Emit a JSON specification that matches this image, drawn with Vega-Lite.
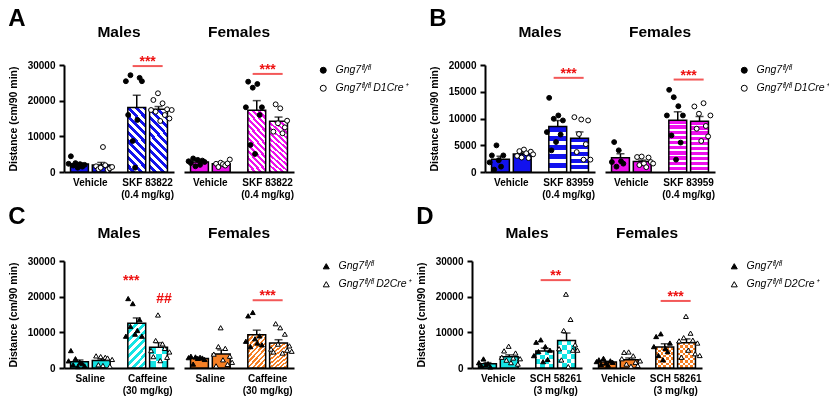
{
"$schema":"https://vega.github.io/schema/vega-lite/v6.json",
"padding":{"left":8,"top":6,"right":0,"bottom":0},
"background":"white",
"config":{
 "font":"Liberation Sans",
 "view":{"stroke":null},
 "title":{"fontSize":24,"fontWeight":"bold","color":"black","anchor":"start","offset":0},
 "header":{"labelFontSize":15.5,"labelFontWeight":"bold","labelColor":"black","labelPadding":25},
 "axisX":{"ticks":false,"labelAngle":0,"domainWidth":2,"domainColor":"black","labelFontWeight":"bold","labelFontSize":10,"labelColor":"black","labelPadding":5,"labelLineHeight":12.5},
 "axisY":{"grid":false,"domainWidth":2,"domainColor":"black","tickColor":"black","tickWidth":2,"tickSize":5,"labelOverlap":false,"labelFontWeight":"bold","labelFontSize":10,"labelColor":"black","labelPadding":4,"titleFontWeight":"bold","titleFontSize":10.5,"titleColor":"black","titlePadding":9},
 "numberFormat":"d",
 "bar":{"stroke":"black","strokeWidth":1.5},
 "point":{"filled":true,"stroke":"black","strokeWidth":1,"size":24,"opacity":1},
 "text":{"color":"#ee1111","fontSize":14,"fontWeight":"bold","baseline":"alphabetic"},
 "tick":{"color":"#ee1111","thickness":2},
 "legend":{"orient":"right","offset":24,"padding":0,"rowPadding":7,"labelFontSize":10.5,"labelFontStyle":"italic","labelColor":"black","symbolSize":36,"labelOffset":7}
},
"datasets":{
 "A":[
  {"s":"M","c":"Vehicle","g":"fl","k":"fl2","v":2300},{"s":"M","c":"Vehicle","g":"fl","k":"fl3","v":4400},{"s":"M","c":"Vehicle","g":"fl","k":"fl4","v":1800},{"s":"M","c":"Vehicle","g":"fl","k":"fl5","v":2500},{"s":"M","c":"Vehicle","g":"fl","k":"fl6","v":1200},{"s":"M","c":"Vehicle","g":"fl","k":"fl7","v":2200},{"s":"M","c":"Vehicle","g":"fl","k":"fl8","v":1500},{"s":"M","c":"Vehicle","g":"fl","k":"fl9","v":2000},
  {"s":"M","c":"Vehicle","g":"cre","k":"cre2","v":1600},{"s":"M","c":"Vehicle","g":"cre","k":"cre3","v":800},{"s":"M","c":"Vehicle","g":"cre","k":"cre4","v":1200},{"s":"M","c":"Vehicle","g":"cre","k":"cre5","v":7000},{"s":"M","c":"Vehicle","g":"cre","k":"cre6","v":1900},{"s":"M","c":"Vehicle","g":"cre","k":"cre7","v":600},{"s":"M","c":"Vehicle","g":"cre","k":"cre8","v":1000},{"s":"M","c":"Vehicle","g":"cre","k":"cre9","v":1400},
  {"s":"M","c":"SKF","g":"fl","k":"fl2","v":25450},{"s":"M","c":"SKF","g":"fl","k":"fl3","v":16000},{"s":"M","c":"SKF","g":"fl","k":"fl4","v":27140},{"s":"M","c":"SKF","g":"fl","k":"fl5","v":8690},{"s":"M","c":"SKF","g":"fl","k":"fl6","v":1210},{"s":"M","c":"SKF","g":"fl","k":"fl7","v":14580},{"s":"M","c":"SKF","g":"fl","k":"fl8","v":26400},{"s":"M","c":"SKF","g":"fl","k":"fl9","v":25450},
  {"s":"M","c":"SKF","g":"cre","k":"cre1","v":17380},{"s":"M","c":"SKF","g":"cre","k":"cre2","v":20190},{"s":"M","c":"SKF","g":"cre","k":"cre3","v":16910},{"s":"M","c":"SKF","g":"cre","k":"cre4","v":22070},{"s":"M","c":"SKF","g":"cre","k":"cre5","v":14300},{"s":"M","c":"SKF","g":"cre","k":"cre6","v":19260},{"s":"M","c":"SKF","g":"cre","k":"cre7","v":15980},{"s":"M","c":"SKF","g":"cre","k":"cre8","v":17580},{"s":"M","c":"SKF","g":"cre","k":"cre9","v":15000},{"s":"M","c":"SKF","g":"cre","k":"cre10","v":17380},
  {"s":"F","c":"Vehicle","g":"fl","k":"fl2","v":3000},{"s":"F","c":"Vehicle","g":"fl","k":"fl3","v":2500},{"s":"F","c":"Vehicle","g":"fl","k":"fl4","v":3800},{"s":"F","c":"Vehicle","g":"fl","k":"fl5","v":1600},{"s":"F","c":"Vehicle","g":"fl","k":"fl6","v":3400},{"s":"F","c":"Vehicle","g":"fl","k":"fl7","v":2000},{"s":"F","c":"Vehicle","g":"fl","k":"fl8","v":3200},{"s":"F","c":"Vehicle","g":"fl","k":"fl9","v":2800},
  {"s":"F","c":"Vehicle","g":"cre","k":"cre2","v":2300},{"s":"F","c":"Vehicle","g":"cre","k":"cre3","v":1400},{"s":"F","c":"Vehicle","g":"cre","k":"cre4","v":2600},{"s":"F","c":"Vehicle","g":"cre","k":"cre5","v":2200},{"s":"F","c":"Vehicle","g":"cre","k":"cre6","v":1800},{"s":"F","c":"Vehicle","g":"cre","k":"cre7","v":2400},{"s":"F","c":"Vehicle","g":"cre","k":"cre8","v":3500},
  {"s":"F","c":"SKF","g":"fl","k":"fl2","v":18140},{"s":"F","c":"SKF","g":"fl","k":"fl3","v":25320},{"s":"F","c":"SKF","g":"fl","k":"fl4","v":7570},{"s":"F","c":"SKF","g":"fl","k":"fl5","v":23640},{"s":"F","c":"SKF","g":"fl","k":"fl6","v":5050},{"s":"F","c":"SKF","g":"fl","k":"fl7","v":24670},{"s":"F","c":"SKF","g":"fl","k":"fl8","v":15980},{"s":"F","c":"SKF","g":"fl","k":"fl9","v":18140},
  {"s":"F","c":"SKF","g":"cre","k":"cre2","v":11310},{"s":"F","c":"SKF","g":"cre","k":"cre3","v":18970},{"s":"F","c":"SKF","g":"cre","k":"cre4","v":13660},{"s":"F","c":"SKF","g":"cre","k":"cre5","v":17850},{"s":"F","c":"SKF","g":"cre","k":"cre6","v":10850},{"s":"F","c":"SKF","g":"cre","k":"cre7","v":12500},{"s":"F","c":"SKF","g":"cre","k":"cre8","v":14380},
  {"s":"M","c":"SKF","ann":"rule","y":29700,"t":"***"},{"s":"F","c":"SKF","ann":"rule","y":27500,"t":"***"}
 ],
 "B":[
  {"s":"M","c":"Vehicle","g":"fl","k":"fl2","v":1800},{"s":"M","c":"Vehicle","g":"fl","k":"fl3","v":3100},{"s":"M","c":"Vehicle","g":"fl","k":"fl4","v":450},{"s":"M","c":"Vehicle","g":"fl","k":"fl5","v":4980},{"s":"M","c":"Vehicle","g":"fl","k":"fl6","v":2200},{"s":"M","c":"Vehicle","g":"fl","k":"fl7","v":1000},{"s":"M","c":"Vehicle","g":"fl","k":"fl8","v":3100},
  {"s":"M","c":"Vehicle","g":"cre","k":"cre2","v":3000},{"s":"M","c":"Vehicle","g":"cre","k":"cre3","v":3900},{"s":"M","c":"Vehicle","g":"cre","k":"cre4","v":2700},{"s":"M","c":"Vehicle","g":"cre","k":"cre5","v":4200},{"s":"M","c":"Vehicle","g":"cre","k":"cre6","v":3500},{"s":"M","c":"Vehicle","g":"cre","k":"cre7","v":2600},{"s":"M","c":"Vehicle","g":"cre","k":"cre8","v":3800},{"s":"M","c":"Vehicle","g":"cre","k":"cre9","v":3300},
  {"s":"M","c":"SKF","g":"fl","k":"fl2","v":7460},{"s":"M","c":"SKF","g":"fl","k":"fl3","v":13860},{"s":"M","c":"SKF","g":"fl","k":"fl4","v":4050},{"s":"M","c":"SKF","g":"fl","k":"fl5","v":9950},{"s":"M","c":"SKF","g":"fl","k":"fl6","v":5600},{"s":"M","c":"SKF","g":"fl","k":"fl7","v":10570},{"s":"M","c":"SKF","g":"fl","k":"fl8","v":7000},{"s":"M","c":"SKF","g":"fl","k":"fl9","v":9640},
  {"s":"M","c":"SKF","g":"cre","k":"cre2","v":10250},{"s":"M","c":"SKF","g":"cre","k":"cre3","v":3730},{"s":"M","c":"SKF","g":"cre","k":"cre4","v":7100},{"s":"M","c":"SKF","g":"cre","k":"cre5","v":9820},{"s":"M","c":"SKF","g":"cre","k":"cre6","v":2310},{"s":"M","c":"SKF","g":"cre","k":"cre7","v":5200},{"s":"M","c":"SKF","g":"cre","k":"cre8","v":9640},{"s":"M","c":"SKF","g":"cre","k":"cre9","v":2310},
  {"s":"F","c":"Vehicle","g":"fl","k":"fl3","v":1860},{"s":"F","c":"Vehicle","g":"fl","k":"fl4","v":5590},{"s":"F","c":"Vehicle","g":"fl","k":"fl5","v":1000},{"s":"F","c":"Vehicle","g":"fl","k":"fl6","v":4050},{"s":"F","c":"Vehicle","g":"fl","k":"fl7","v":2000},{"s":"F","c":"Vehicle","g":"fl","k":"fl8","v":1560},
  {"s":"F","c":"Vehicle","g":"cre","k":"cre2","v":2800},{"s":"F","c":"Vehicle","g":"cre","k":"cre3","v":1300},{"s":"F","c":"Vehicle","g":"cre","k":"cre4","v":2890},{"s":"F","c":"Vehicle","g":"cre","k":"cre5","v":1580},{"s":"F","c":"Vehicle","g":"cre","k":"cre6","v":900},{"s":"F","c":"Vehicle","g":"cre","k":"cre7","v":2700},{"s":"F","c":"Vehicle","g":"cre","k":"cre8","v":1860},{"s":"F","c":"Vehicle","g":"cre","k":"cre9","v":1580},
  {"s":"F","c":"SKF","g":"fl","k":"fl2","v":10570},{"s":"F","c":"SKF","g":"fl","k":"fl3","v":15360},{"s":"F","c":"SKF","g":"fl","k":"fl4","v":6840},{"s":"F","c":"SKF","g":"fl","k":"fl5","v":13980},{"s":"F","c":"SKF","g":"fl","k":"fl6","v":2310},{"s":"F","c":"SKF","g":"fl","k":"fl7","v":12300},{"s":"F","c":"SKF","g":"fl","k":"fl8","v":5500},{"s":"F","c":"SKF","g":"fl","k":"fl9","v":10570},
  {"s":"F","c":"SKF","g":"cre","k":"cre2","v":12250},{"s":"F","c":"SKF","g":"cre","k":"cre3","v":8090},{"s":"F","c":"SKF","g":"cre","k":"cre4","v":10890},{"s":"F","c":"SKF","g":"cre","k":"cre5","v":5800},{"s":"F","c":"SKF","g":"cre","k":"cre6","v":12860},{"s":"F","c":"SKF","g":"cre","k":"cre7","v":8600},{"s":"F","c":"SKF","g":"cre","k":"cre8","v":6650},{"s":"F","c":"SKF","g":"cre","k":"cre9","v":10570},
  {"s":"M","c":"SKF","ann":"rule","y":17600,"t":"***"},{"s":"F","c":"SKF","ann":"rule","y":17280,"t":"***"}
 ],
 "C":[
  {"s":"M","c":"Saline","g":"fl","k":"fl2","v":2000},{"s":"M","c":"Saline","g":"fl","k":"fl3","v":4880},{"s":"M","c":"Saline","g":"fl","k":"fl4","v":900},{"s":"M","c":"Saline","g":"fl","k":"fl5","v":2600},{"s":"M","c":"Saline","g":"fl","k":"fl6","v":400},{"s":"M","c":"Saline","g":"fl","k":"fl7","v":1500},{"s":"M","c":"Saline","g":"fl","k":"fl8","v":1200},{"s":"M","c":"Saline","g":"fl","k":"fl9","v":600},
  {"s":"M","c":"Saline","g":"cre","k":"cre2","v":3400},{"s":"M","c":"Saline","g":"cre","k":"cre3","v":900},{"s":"M","c":"Saline","g":"cre","k":"cre4","v":3200},{"s":"M","c":"Saline","g":"cre","k":"cre5","v":700},{"s":"M","c":"Saline","g":"cre","k":"cre6","v":3000},{"s":"M","c":"Saline","g":"cre","k":"cre7","v":2800},{"s":"M","c":"Saline","g":"cre","k":"cre8","v":500},{"s":"M","c":"Saline","g":"cre","k":"cre9","v":2400},
  {"s":"M","c":"Caffeine","g":"fl","k":"fl2","v":8920},{"s":"M","c":"Caffeine","g":"fl","k":"fl3","v":19470},{"s":"M","c":"Caffeine","g":"fl","k":"fl4","v":11650},{"s":"M","c":"Caffeine","g":"fl","k":"fl5","v":18060},{"s":"M","c":"Caffeine","g":"fl","k":"fl6","v":9500},{"s":"M","c":"Caffeine","g":"fl","k":"fl7","v":10520},{"s":"M","c":"Caffeine","g":"fl","k":"fl8","v":13540},{"s":"M","c":"Caffeine","g":"fl","k":"fl9","v":8920},
  {"s":"M","c":"Caffeine","g":"cre","k":"cre1","v":4880},{"s":"M","c":"Caffeine","g":"cre","k":"cre2","v":3190},{"s":"M","c":"Caffeine","g":"cre","k":"cre3","v":7700},{"s":"M","c":"Caffeine","g":"cre","k":"cre4","v":14870},{"s":"M","c":"Caffeine","g":"cre","k":"cre5","v":2070},{"s":"M","c":"Caffeine","g":"cre","k":"cre6","v":6760},{"s":"M","c":"Caffeine","g":"cre","k":"cre7","v":5500},{"s":"M","c":"Caffeine","g":"cre","k":"cre8","v":3000},{"s":"M","c":"Caffeine","g":"cre","k":"cre9","v":4500},
  {"s":"F","c":"Saline","g":"fl","k":"fl2","v":2900},{"s":"F","c":"Saline","g":"fl","k":"fl3","v":3300},{"s":"F","c":"Saline","g":"fl","k":"fl4","v":1100},{"s":"F","c":"Saline","g":"fl","k":"fl5","v":3100},{"s":"F","c":"Saline","g":"fl","k":"fl6","v":2700},{"s":"F","c":"Saline","g":"fl","k":"fl7","v":3000},{"s":"F","c":"Saline","g":"fl","k":"fl8","v":2800},{"s":"F","c":"Saline","g":"fl","k":"fl9","v":2400},
  {"s":"F","c":"Saline","g":"cre","k":"cre1","v":3900},{"s":"F","c":"Saline","g":"cre","k":"cre2","v":600},{"s":"F","c":"Saline","g":"cre","k":"cre3","v":6000},{"s":"F","c":"Saline","g":"cre","k":"cre4","v":11290},{"s":"F","c":"Saline","g":"cre","k":"cre5","v":2300},{"s":"F","c":"Saline","g":"cre","k":"cre6","v":5500},{"s":"F","c":"Saline","g":"cre","k":"cre7","v":1000},{"s":"F","c":"Saline","g":"cre","k":"cre8","v":3300},{"s":"F","c":"Saline","g":"cre","k":"cre9","v":1600},
  {"s":"F","c":"Caffeine","g":"fl","k":"fl2","v":7500},{"s":"F","c":"Caffeine","g":"fl","k":"fl3","v":14620},{"s":"F","c":"Caffeine","g":"fl","k":"fl4","v":6000},{"s":"F","c":"Caffeine","g":"fl","k":"fl5","v":15580},{"s":"F","c":"Caffeine","g":"fl","k":"fl6","v":8200},{"s":"F","c":"Caffeine","g":"fl","k":"fl7","v":7000},{"s":"F","c":"Caffeine","g":"fl","k":"fl8","v":9000},{"s":"F","c":"Caffeine","g":"fl","k":"fl9","v":6500},
  {"s":"F","c":"Caffeine","g":"cre","k":"cre1","v":5300},{"s":"F","c":"Caffeine","g":"cre","k":"cre2","v":4500},{"s":"F","c":"Caffeine","g":"cre","k":"cre3","v":12420},{"s":"F","c":"Caffeine","g":"cre","k":"cre4","v":6700},{"s":"F","c":"Caffeine","g":"cre","k":"cre5","v":11290},{"s":"F","c":"Caffeine","g":"cre","k":"cre6","v":4200},{"s":"F","c":"Caffeine","g":"cre","k":"cre7","v":9500},{"s":"F","c":"Caffeine","g":"cre","k":"cre8","v":5000},{"s":"F","c":"Caffeine","g":"cre","k":"cre9","v":6200},{"s":"F","c":"Caffeine","g":"cre","k":"cre10","v":4700},
  {"s":"M","c":"Caffeine","g":"fl","ann":"note","y":23300,"t":"***"},{"s":"M","c":"Caffeine","g":"cre","ann":"note","y":18170,"t":"##"},{"s":"F","c":"Caffeine","ann":"rule","y":19000,"t":"***"}
 ],
 "D":[
  {"s":"M","c":"Vehicle","g":"fl","k":"fl3","v":1500},{"s":"M","c":"Vehicle","g":"fl","k":"fl4","v":700},{"s":"M","c":"Vehicle","g":"fl","k":"fl5","v":2540},{"s":"M","c":"Vehicle","g":"fl","k":"fl6","v":900},{"s":"M","c":"Vehicle","g":"fl","k":"fl7","v":1200},{"s":"M","c":"Vehicle","g":"fl","k":"fl8","v":300},
  {"s":"M","c":"Vehicle","g":"cre","k":"cre1","v":3000},{"s":"M","c":"Vehicle","g":"cre","k":"cre2","v":4800},{"s":"M","c":"Vehicle","g":"cre","k":"cre3","v":2200},{"s":"M","c":"Vehicle","g":"cre","k":"cre4","v":6100},{"s":"M","c":"Vehicle","g":"cre","k":"cre5","v":1500},{"s":"M","c":"Vehicle","g":"cre","k":"cre6","v":2800},{"s":"M","c":"Vehicle","g":"cre","k":"cre7","v":4200},{"s":"M","c":"Vehicle","g":"cre","k":"cre8","v":1100},{"s":"M","c":"Vehicle","g":"cre","k":"cre9","v":2600},
  {"s":"M","c":"SCH","g":"fl","k":"fl2","v":3470},{"s":"M","c":"SCH","g":"fl","k":"fl3","v":7230},{"s":"M","c":"SCH","g":"fl","k":"fl4","v":4600},{"s":"M","c":"SCH","g":"fl","k":"fl5","v":7900},{"s":"M","c":"SCH","g":"fl","k":"fl6","v":1780},{"s":"M","c":"SCH","g":"fl","k":"fl7","v":6000},{"s":"M","c":"SCH","g":"fl","k":"fl8","v":2400},{"s":"M","c":"SCH","g":"fl","k":"fl9","v":5000},
  {"s":"M","c":"SCH","g":"cre","k":"cre1","v":5400},{"s":"M","c":"SCH","g":"cre","k":"cre2","v":2260},{"s":"M","c":"SCH","g":"cre","k":"cre3","v":10500},{"s":"M","c":"SCH","g":"cre","k":"cre4","v":20690},{"s":"M","c":"SCH","g":"cre","k":"cre5","v":400},{"s":"M","c":"SCH","g":"cre","k":"cre6","v":13630},{"s":"M","c":"SCH","g":"cre","k":"cre7","v":5000},{"s":"M","c":"SCH","g":"cre","k":"cre8","v":6500},{"s":"M","c":"SCH","g":"cre","k":"cre9","v":5000},
  {"s":"F","c":"Vehicle","g":"fl","k":"fl2","v":1800},{"s":"F","c":"Vehicle","g":"fl","k":"fl3","v":2300},{"s":"F","c":"Vehicle","g":"fl","k":"fl4","v":1000},{"s":"F","c":"Vehicle","g":"fl","k":"fl5","v":2700},{"s":"F","c":"Vehicle","g":"fl","k":"fl6","v":1400},{"s":"F","c":"Vehicle","g":"fl","k":"fl7","v":800},{"s":"F","c":"Vehicle","g":"fl","k":"fl8","v":2000},{"s":"F","c":"Vehicle","g":"fl","k":"fl9","v":1600},
  {"s":"F","c":"Vehicle","g":"cre","k":"cre1","v":2600},{"s":"F","c":"Vehicle","g":"cre","k":"cre2","v":4400},{"s":"F","c":"Vehicle","g":"cre","k":"cre3","v":1100},{"s":"F","c":"Vehicle","g":"cre","k":"cre4","v":4500},{"s":"F","c":"Vehicle","g":"cre","k":"cre5","v":500},{"s":"F","c":"Vehicle","g":"cre","k":"cre6","v":3400},{"s":"F","c":"Vehicle","g":"cre","k":"cre7","v":1600},{"s":"F","c":"Vehicle","g":"cre","k":"cre8","v":700},{"s":"F","c":"Vehicle","g":"cre","k":"cre9","v":2000},
  {"s":"F","c":"SCH","g":"fl","k":"fl2","v":6000},{"s":"F","c":"SCH","g":"fl","k":"fl3","v":8830},{"s":"F","c":"SCH","g":"fl","k":"fl4","v":3500},{"s":"F","c":"SCH","g":"fl","k":"fl5","v":9590},{"s":"F","c":"SCH","g":"fl","k":"fl6","v":2300},{"s":"F","c":"SCH","g":"fl","k":"fl7","v":5500},{"s":"F","c":"SCH","g":"fl","k":"fl8","v":4600},{"s":"F","c":"SCH","g":"fl","k":"fl9","v":7000},
  {"s":"F","c":"SCH","g":"cre","k":"cre1","v":7600},{"s":"F","c":"SCH","g":"cre","k":"cre2","v":3000},{"s":"F","c":"SCH","g":"cre","k":"cre3","v":8500},{"s":"F","c":"SCH","g":"cre","k":"cre4","v":14480},{"s":"F","c":"SCH","g":"cre","k":"cre5","v":5000},{"s":"F","c":"SCH","g":"cre","k":"cre6","v":9770},{"s":"F","c":"SCH","g":"cre","k":"cre7","v":7800},{"s":"F","c":"SCH","g":"cre","k":"cre8","v":4000},{"s":"F","c":"SCH","g":"cre","k":"cre9","v":7000},{"s":"F","c":"SCH","g":"cre","k":"cre10","v":3500},
  {"s":"M","c":"SCH","ann":"rule","y":24640,"t":"**"},{"s":"F","c":"SCH","ann":"rule","y":18800,"t":"***"}
 ]
},
"spacing":4,
"resolve":{"scale":{"shape":"independent","fill":"independent"}},
"vconcat":[
{"hconcat":[
 {"title":{"text":"A","offset":-6},"data":{"name":"A"},"bounds":"flush",
  "facet":{"column":{"field":"s","type":"nominal","sort":["M","F"],"header":{"title":null,"labelExpr":"datum.value=='M'?'Males      ':'   Females'"}}},
  "spacing":{"column":10},
  "spec":{"width":110,"height":107,
   "encoding":{"x":{"field":"c","type":"nominal","scale":{"domain":["Vehicle","SKF"],"paddingInner":0.08,"paddingOuter":0},"axis":{"title":null,"labelExpr":"datum.value=='SKF'?['SKF 83822','(0.4 mg/kg)']:datum.value"}}},
   "resolve":{"scale":{"xOffset":"independent"}},
   "layer":[
    {"transform":[{"filter":"!datum.ann"}],"mark":{"type":"errorbar","extent":"stderr","color":"black","thickness":1.5,"ticks":{"size":8,"thickness":1.5,"color":"black"}},
     "encoding":{"xOffset":{"field":"g","type":"nominal","scale":{"domain":["fl","cre"],"paddingInner":0.18,"paddingOuter":0.3}},"y":{"field":"v","type":"quantitative","title":"Distance (cm/90 min)","scale":{"domain":[0,30000],"nice":false}}}},
    {"transform":[{"filter":"!datum.ann&&datum.s=='M'&&datum.c=='Vehicle'"}],"mark":{"type":"bar","fill":"#1212ee"},
     "encoding":{"xOffset":{"field":"g","type":"nominal","scale":{"domain":["fl","cre"],"paddingInner":0.18,"paddingOuter":0.3}},"y":{"aggregate":"mean","field":"v","type":"quantitative","title":"Distance (cm/90 min)","axis":{"values":[0,10000,20000,30000],"labelOverlap":false,"tickCount":4}}}},
    {"transform":[{"filter":"!datum.ann&&datum.s=='F'&&datum.c=='Vehicle'"}],"mark":{"type":"bar","fill":"#ee10ee"},
     "encoding":{"xOffset":{"field":"g","type":"nominal","scale":{"domain":["fl","cre"],"paddingInner":0.18,"paddingOuter":0.3}},"y":{"aggregate":"mean","field":"v","type":"quantitative","title":"Distance (cm/90 min)"}}},
    {"transform":[{"filter":"!datum.ann&&datum.s=='M'&&datum.c=='SKF'"}],"mark":{"type":"bar","fill":{"gradient":"linear","x1":1,"y1":0,"x2":0.655,"y2":1.19,"stops":[{"offset":0,"color":"#1212ee"},{"offset":0.05,"color":"#1212ee"},{"offset":0.05,"color":"#ffffff"},{"offset":0.1,"color":"#ffffff"},{"offset":0.1,"color":"#1212ee"},{"offset":0.15,"color":"#1212ee"},{"offset":0.15,"color":"#ffffff"},{"offset":0.2,"color":"#ffffff"},{"offset":0.2,"color":"#1212ee"},{"offset":0.25,"color":"#1212ee"},{"offset":0.25,"color":"#ffffff"},{"offset":0.3,"color":"#ffffff"},{"offset":0.3,"color":"#1212ee"},{"offset":0.35,"color":"#1212ee"},{"offset":0.35,"color":"#ffffff"},{"offset":0.4,"color":"#ffffff"},{"offset":0.4,"color":"#1212ee"},{"offset":0.45,"color":"#1212ee"},{"offset":0.45,"color":"#ffffff"},{"offset":0.5,"color":"#ffffff"},{"offset":0.5,"color":"#1212ee"},{"offset":0.55,"color":"#1212ee"},{"offset":0.55,"color":"#ffffff"},{"offset":0.6,"color":"#ffffff"},{"offset":0.6,"color":"#1212ee"},{"offset":0.65,"color":"#1212ee"},{"offset":0.65,"color":"#ffffff"},{"offset":0.7,"color":"#ffffff"},{"offset":0.7,"color":"#1212ee"},{"offset":0.75,"color":"#1212ee"},{"offset":0.75,"color":"#ffffff"},{"offset":0.8,"color":"#ffffff"},{"offset":0.8,"color":"#1212ee"},{"offset":0.85,"color":"#1212ee"},{"offset":0.85,"color":"#ffffff"},{"offset":0.9,"color":"#ffffff"},{"offset":0.9,"color":"#1212ee"},{"offset":0.95,"color":"#1212ee"},{"offset":0.95,"color":"#ffffff"},{"offset":1,"color":"#ffffff"}]}},
     "encoding":{"xOffset":{"field":"g","type":"nominal","scale":{"domain":["fl","cre"],"paddingInner":0.18,"paddingOuter":0.3}},"y":{"aggregate":"mean","field":"v","type":"quantitative","title":"Distance (cm/90 min)"}}},
    {"transform":[{"filter":"!datum.ann&&datum.s=='F'&&datum.c=='SKF'"}],"mark":{"type":"bar","fill":{"gradient":"linear","x1":1,"y1":0,"x2":0.617,"y2":1.197,"stops":[{"offset":0,"color":"#ee10ee"},{"offset":0.04,"color":"#ee10ee"},{"offset":0.04,"color":"#ffffff"},{"offset":0.08,"color":"#ffffff"},{"offset":0.08,"color":"#ee10ee"},{"offset":0.12,"color":"#ee10ee"},{"offset":0.12,"color":"#ffffff"},{"offset":0.16,"color":"#ffffff"},{"offset":0.16,"color":"#ee10ee"},{"offset":0.2,"color":"#ee10ee"},{"offset":0.2,"color":"#ffffff"},{"offset":0.24,"color":"#ffffff"},{"offset":0.24,"color":"#ee10ee"},{"offset":0.28,"color":"#ee10ee"},{"offset":0.28,"color":"#ffffff"},{"offset":0.32,"color":"#ffffff"},{"offset":0.32,"color":"#ee10ee"},{"offset":0.36,"color":"#ee10ee"},{"offset":0.36,"color":"#ffffff"},{"offset":0.4,"color":"#ffffff"},{"offset":0.4,"color":"#ee10ee"},{"offset":0.44,"color":"#ee10ee"},{"offset":0.44,"color":"#ffffff"},{"offset":0.48,"color":"#ffffff"},{"offset":0.48,"color":"#ee10ee"},{"offset":0.52,"color":"#ee10ee"},{"offset":0.52,"color":"#ffffff"},{"offset":0.56,"color":"#ffffff"},{"offset":0.56,"color":"#ee10ee"},{"offset":0.6,"color":"#ee10ee"},{"offset":0.6,"color":"#ffffff"},{"offset":0.64,"color":"#ffffff"},{"offset":0.64,"color":"#ee10ee"},{"offset":0.68,"color":"#ee10ee"},{"offset":0.68,"color":"#ffffff"},{"offset":0.72,"color":"#ffffff"},{"offset":0.72,"color":"#ee10ee"},{"offset":0.76,"color":"#ee10ee"},{"offset":0.76,"color":"#ffffff"},{"offset":0.8,"color":"#ffffff"},{"offset":0.8,"color":"#ee10ee"},{"offset":0.84,"color":"#ee10ee"},{"offset":0.84,"color":"#ffffff"},{"offset":0.88,"color":"#ffffff"},{"offset":0.88,"color":"#ee10ee"},{"offset":0.92,"color":"#ee10ee"},{"offset":0.92,"color":"#ffffff"},{"offset":0.96,"color":"#ffffff"},{"offset":0.96,"color":"#ee10ee"},{"offset":1,"color":"#ee10ee"}]}},
     "encoding":{"xOffset":{"field":"g","type":"nominal","scale":{"domain":["fl","cre"],"paddingInner":0.18,"paddingOuter":0.3}},"y":{"aggregate":"mean","field":"v","type":"quantitative","title":"Distance (cm/90 min)"}}},
    {"transform":[{"filter":"!datum.ann"}],"mark":{"type":"point"},
     "encoding":{"xOffset":{"field":"k","type":"nominal","scale":{"domain":["fl1","fl2","fl3","fl4","fl5","fl6","fl7","fl8","fl9","fl10","s1","s2","cre1","cre2","cre3","cre4","cre5","cre6","cre7","cre8","cre9","cre10"],"paddingInner":0,"paddingOuter":3.5}},"y":{"field":"v","type":"quantitative","title":"Distance (cm/90 min)"},
      "shape":{"field":"g","type":"nominal","scale":{"domain":["fl","cre"],"range":["circle","circle"]},"legend":{"title":null,"labelExpr":"datum.value=='fl'?'Gng7ᶠˡ/ᶠˡ':'Gng7ᶠˡ/ᶠˡ D1Cre⁺'","encode":{"symbols":{"update":{"stroke":{"value":"black"},"strokeWidth":{"value":1}}}}}},
      "fill":{"field":"g","type":"nominal","scale":{"domain":["fl","cre"],"range":["black","white"]},"legend":{"title":null,"labelExpr":"datum.value=='fl'?'Gng7ᶠˡ/ᶠˡ':'Gng7ᶠˡ/ᶠˡ D1Cre⁺'","encode":{"symbols":{"update":{"stroke":{"value":"black"},"strokeWidth":{"value":1}}}}}}}},
    {"transform":[{"filter":"datum.ann=='rule'"}],"mark":{"type":"tick","size":30},"encoding":{"y":{"field":"y","type":"quantitative","title":"Distance (cm/90 min)"}}},
    {"transform":[{"filter":"datum.ann=='rule'"}],"mark":{"type":"text","dy":0},"encoding":{"y":{"field":"y","type":"quantitative","title":"Distance (cm/90 min)"},"text":{"field":"t"}}}
   ]}},
 {"title":{"text":"B","offset":-6},"data":{"name":"B"},"bounds":"flush",
  "facet":{"column":{"field":"s","type":"nominal","sort":["M","F"],"header":{"title":null,"labelExpr":"datum.value=='M'?'Males      ':'   Females'"}}},
  "spacing":{"column":10},
  "spec":{"width":110,"height":107,
   "encoding":{"x":{"field":"c","type":"nominal","scale":{"domain":["Vehicle","SKF"],"paddingInner":0.08,"paddingOuter":0},"axis":{"title":null,"labelExpr":"datum.value=='SKF'?['SKF 83959','(0.4 mg/kg)']:datum.value"}}},
   "resolve":{"scale":{"xOffset":"independent"}},
   "layer":[
    {"transform":[{"filter":"!datum.ann"}],"mark":{"type":"errorbar","extent":"stderr","color":"black","thickness":1.5,"ticks":{"size":8,"thickness":1.5,"color":"black"}},
     "encoding":{"xOffset":{"field":"g","type":"nominal","scale":{"domain":["fl","cre"],"paddingInner":0.18,"paddingOuter":0.3}},"y":{"field":"v","type":"quantitative","title":"Distance (cm/90 min)","scale":{"domain":[0,20000],"nice":false}}}},
    {"transform":[{"filter":"!datum.ann&&datum.s=='M'&&datum.c=='Vehicle'"}],"mark":{"type":"bar","fill":"#1212ee"},
     "encoding":{"xOffset":{"field":"g","type":"nominal","scale":{"domain":["fl","cre"],"paddingInner":0.18,"paddingOuter":0.3}},"y":{"aggregate":"mean","field":"v","type":"quantitative","title":"Distance (cm/90 min)","axis":{"values":[0,5000,10000,15000,20000],"labelOverlap":false,"tickCount":5}}}},
    {"transform":[{"filter":"!datum.ann&&datum.s=='F'&&datum.c=='Vehicle'"}],"mark":{"type":"bar","fill":"#ee10ee"},
     "encoding":{"xOffset":{"field":"g","type":"nominal","scale":{"domain":["fl","cre"],"paddingInner":0.18,"paddingOuter":0.3}},"y":{"aggregate":"mean","field":"v","type":"quantitative","title":"Distance (cm/90 min)"}}},
    {"transform":[{"filter":"!datum.ann&&datum.s=='M'&&datum.c=='SKF'"}],"mark":{"type":"bar","fill":{"gradient":"linear","x1":0,"y1":0,"x2":0,"y2":1,"stops":[{"offset":0,"color":"#1212ee"},{"offset":0.12,"color":"#1212ee"},{"offset":0.12,"color":"#ffffff"},{"offset":0.2,"color":"#ffffff"},{"offset":0.2,"color":"#1212ee"},{"offset":0.32,"color":"#1212ee"},{"offset":0.32,"color":"#ffffff"},{"offset":0.4,"color":"#ffffff"},{"offset":0.4,"color":"#1212ee"},{"offset":0.52,"color":"#1212ee"},{"offset":0.52,"color":"#ffffff"},{"offset":0.6,"color":"#ffffff"},{"offset":0.6,"color":"#1212ee"},{"offset":0.72,"color":"#1212ee"},{"offset":0.72,"color":"#ffffff"},{"offset":0.8,"color":"#ffffff"},{"offset":0.8,"color":"#1212ee"},{"offset":0.92,"color":"#1212ee"},{"offset":0.92,"color":"#ffffff"},{"offset":1,"color":"#ffffff"}]}},
     "encoding":{"xOffset":{"field":"g","type":"nominal","scale":{"domain":["fl","cre"],"paddingInner":0.18,"paddingOuter":0.3}},"y":{"aggregate":"mean","field":"v","type":"quantitative","title":"Distance (cm/90 min)"}}},
    {"transform":[{"filter":"!datum.ann&&datum.s=='F'&&datum.c=='SKF'"}],"mark":{"type":"bar","fill":{"gradient":"linear","x1":0,"y1":0,"x2":0,"y2":1,"stops":[{"offset":0,"color":"#ee10ee"},{"offset":0.065,"color":"#ee10ee"},{"offset":0.065,"color":"#ffffff"},{"offset":0.1,"color":"#ffffff"},{"offset":0.1,"color":"#ee10ee"},{"offset":0.165,"color":"#ee10ee"},{"offset":0.165,"color":"#ffffff"},{"offset":0.2,"color":"#ffffff"},{"offset":0.2,"color":"#ee10ee"},{"offset":0.265,"color":"#ee10ee"},{"offset":0.265,"color":"#ffffff"},{"offset":0.3,"color":"#ffffff"},{"offset":0.3,"color":"#ee10ee"},{"offset":0.365,"color":"#ee10ee"},{"offset":0.365,"color":"#ffffff"},{"offset":0.4,"color":"#ffffff"},{"offset":0.4,"color":"#ee10ee"},{"offset":0.465,"color":"#ee10ee"},{"offset":0.465,"color":"#ffffff"},{"offset":0.5,"color":"#ffffff"},{"offset":0.5,"color":"#ee10ee"},{"offset":0.565,"color":"#ee10ee"},{"offset":0.565,"color":"#ffffff"},{"offset":0.6,"color":"#ffffff"},{"offset":0.6,"color":"#ee10ee"},{"offset":0.665,"color":"#ee10ee"},{"offset":0.665,"color":"#ffffff"},{"offset":0.7,"color":"#ffffff"},{"offset":0.7,"color":"#ee10ee"},{"offset":0.765,"color":"#ee10ee"},{"offset":0.765,"color":"#ffffff"},{"offset":0.8,"color":"#ffffff"},{"offset":0.8,"color":"#ee10ee"},{"offset":0.865,"color":"#ee10ee"},{"offset":0.865,"color":"#ffffff"},{"offset":0.9,"color":"#ffffff"},{"offset":0.9,"color":"#ee10ee"},{"offset":0.965,"color":"#ee10ee"},{"offset":0.965,"color":"#ffffff"},{"offset":1,"color":"#ffffff"}]}},
     "encoding":{"xOffset":{"field":"g","type":"nominal","scale":{"domain":["fl","cre"],"paddingInner":0.18,"paddingOuter":0.3}},"y":{"aggregate":"mean","field":"v","type":"quantitative","title":"Distance (cm/90 min)"}}},
    {"transform":[{"filter":"!datum.ann"}],"mark":{"type":"point"},
     "encoding":{"xOffset":{"field":"k","type":"nominal","scale":{"domain":["fl1","fl2","fl3","fl4","fl5","fl6","fl7","fl8","fl9","fl10","s1","s2","cre1","cre2","cre3","cre4","cre5","cre6","cre7","cre8","cre9","cre10"],"paddingInner":0,"paddingOuter":3.5}},"y":{"field":"v","type":"quantitative","title":"Distance (cm/90 min)"},
      "shape":{"field":"g","type":"nominal","scale":{"domain":["fl","cre"],"range":["circle","circle"]},"legend":{"title":null,"labelExpr":"datum.value=='fl'?'Gng7ᶠˡ/ᶠˡ':'Gng7ᶠˡ/ᶠˡ D1Cre⁺'","encode":{"symbols":{"update":{"stroke":{"value":"black"},"strokeWidth":{"value":1}}}}}},
      "fill":{"field":"g","type":"nominal","scale":{"domain":["fl","cre"],"range":["black","white"]},"legend":{"title":null,"labelExpr":"datum.value=='fl'?'Gng7ᶠˡ/ᶠˡ':'Gng7ᶠˡ/ᶠˡ D1Cre⁺'","encode":{"symbols":{"update":{"stroke":{"value":"black"},"strokeWidth":{"value":1}}}}}}}},
    {"transform":[{"filter":"datum.ann=='rule'"}],"mark":{"type":"tick","size":30},"encoding":{"y":{"field":"y","type":"quantitative","title":"Distance (cm/90 min)"}}},
    {"transform":[{"filter":"datum.ann=='rule'"}],"mark":{"type":"text","dy":0},"encoding":{"y":{"field":"y","type":"quantitative","title":"Distance (cm/90 min)"},"text":{"field":"t"}}}
   ]}}
],"spacing":21,"resolve":{"scale":{"shape":"independent","fill":"independent"}}},
{"hconcat":[
 {"title":{"text":"C","offset":-3},"data":{"name":"C"},"bounds":"flush",
  "facet":{"column":{"field":"s","type":"nominal","sort":["M","F"],"header":{"title":null,"labelPadding":20,"labelExpr":"datum.value=='M'?'Males      ':' Females'"}}},
  "spacing":{"column":10},
  "spec":{"width":110,"height":107,
   "encoding":{"x":{"field":"c","type":"nominal","scale":{"domain":["Saline","Caffeine"],"paddingInner":0.08,"paddingOuter":0},"axis":{"title":null,"labelExpr":"datum.value=='Caffeine'?['Caffeine','(30 mg/kg)']:datum.value"}}},
   "resolve":{"scale":{"xOffset":"independent"}},
   "layer":[
    {"transform":[{"filter":"!datum.ann"}],"mark":{"type":"errorbar","extent":"stderr","color":"black","thickness":1.5,"ticks":{"size":8,"thickness":1.5,"color":"black"}},
     "encoding":{"xOffset":{"field":"g","type":"nominal","scale":{"domain":["fl","cre"],"paddingInner":0.18,"paddingOuter":0.3}},"y":{"field":"v","type":"quantitative","title":"Distance (cm/90 min)","scale":{"domain":[0,30000],"nice":false}}}},
    {"transform":[{"filter":"!datum.ann&&datum.s=='M'&&datum.c=='Saline'"}],"mark":{"type":"bar","fill":"#14e4e4"},
     "encoding":{"xOffset":{"field":"g","type":"nominal","scale":{"domain":["fl","cre"],"paddingInner":0.18,"paddingOuter":0.3}},"y":{"aggregate":"mean","field":"v","type":"quantitative","title":"Distance (cm/90 min)","axis":{"values":[0,10000,20000,30000],"labelOverlap":false,"tickCount":4}}}},
    {"transform":[{"filter":"!datum.ann&&datum.s=='F'&&datum.c=='Saline'"}],"mark":{"type":"bar","fill":"#f58025"},
     "encoding":{"xOffset":{"field":"g","type":"nominal","scale":{"domain":["fl","cre"],"paddingInner":0.18,"paddingOuter":0.3}},"y":{"aggregate":"mean","field":"v","type":"quantitative","title":"Distance (cm/90 min)"}}},
    {"transform":[{"filter":"!datum.ann&&datum.s=='M'&&datum.c=='Caffeine'&&datum.g=='fl'"}],"mark":{"type":"bar","fill":{"gradient":"linear","x1":0,"y1":0,"x2":0.495,"y2":1.207,"stops":[{"offset":0,"color":"#14e4e4"},{"offset":0.0625,"color":"#14e4e4"},{"offset":0.0625,"color":"#ffffff"},{"offset":0.125,"color":"#ffffff"},{"offset":0.125,"color":"#14e4e4"},{"offset":0.1875,"color":"#14e4e4"},{"offset":0.1875,"color":"#ffffff"},{"offset":0.25,"color":"#ffffff"},{"offset":0.25,"color":"#14e4e4"},{"offset":0.3125,"color":"#14e4e4"},{"offset":0.3125,"color":"#ffffff"},{"offset":0.375,"color":"#ffffff"},{"offset":0.375,"color":"#14e4e4"},{"offset":0.4375,"color":"#14e4e4"},{"offset":0.4375,"color":"#ffffff"},{"offset":0.5,"color":"#ffffff"},{"offset":0.5,"color":"#14e4e4"},{"offset":0.5625,"color":"#14e4e4"},{"offset":0.5625,"color":"#ffffff"},{"offset":0.625,"color":"#ffffff"},{"offset":0.625,"color":"#14e4e4"},{"offset":0.6875,"color":"#14e4e4"},{"offset":0.6875,"color":"#ffffff"},{"offset":0.75,"color":"#ffffff"},{"offset":0.75,"color":"#14e4e4"},{"offset":0.8125,"color":"#14e4e4"},{"offset":0.8125,"color":"#ffffff"},{"offset":0.875,"color":"#ffffff"},{"offset":0.875,"color":"#14e4e4"},{"offset":0.9375,"color":"#14e4e4"},{"offset":0.9375,"color":"#ffffff"},{"offset":1,"color":"#ffffff"}]}},
     "encoding":{"xOffset":{"field":"g","type":"nominal","scale":{"domain":["fl","cre"],"paddingInner":0.18,"paddingOuter":0.3}},"y":{"aggregate":"mean","field":"v","type":"quantitative","title":"Distance (cm/90 min)"}}},
    {"transform":[{"filter":"!datum.ann&&datum.s=='M'&&datum.c=='Caffeine'&&datum.g=='cre'"}],"mark":{"type":"bar","strokeWidth":0,"fill":{"gradient":"linear","x1":0,"y1":0,"x2":0,"y2":1,"stops":[{"offset":0,"color":"#ffffff"},{"offset":0.3333,"color":"#ffffff"},{"offset":0.3333,"color":"#000000"},{"offset":0.6667,"color":"#000000"},{"offset":0.6667,"color":"#ffffff"},{"offset":1,"color":"#ffffff"}]}},
     "encoding":{"xOffset":{"field":"g","type":"nominal","scale":{"domain":["fl","cre"],"paddingInner":0.18,"paddingOuter":0.3}},"y":{"aggregate":"mean","field":"v","type":"quantitative","title":"Distance (cm/90 min)"}}},
    {"transform":[{"filter":"!datum.ann&&datum.s=='M'&&datum.c=='Caffeine'&&datum.g=='cre'"}],"mark":{"type":"bar","strokeWidth":0,"blend":"difference","fill":{"gradient":"linear","x1":0,"y1":0,"x2":1,"y2":0,"stops":[{"offset":0,"color":"#ffffff"},{"offset":0.3333,"color":"#ffffff"},{"offset":0.3333,"color":"#000000"},{"offset":0.6667,"color":"#000000"},{"offset":0.6667,"color":"#ffffff"},{"offset":1,"color":"#ffffff"}]}},
     "encoding":{"xOffset":{"field":"g","type":"nominal","scale":{"domain":["fl","cre"],"paddingInner":0.18,"paddingOuter":0.3}},"y":{"aggregate":"mean","field":"v","type":"quantitative","title":"Distance (cm/90 min)"}}},
    {"transform":[{"filter":"!datum.ann&&datum.s=='M'&&datum.c=='Caffeine'&&datum.g=='cre'"}],"mark":{"type":"bar","strokeWidth":0,"blend":"screen","fill":"#14e4e4"},
     "encoding":{"xOffset":{"field":"g","type":"nominal","scale":{"domain":["fl","cre"],"paddingInner":0.18,"paddingOuter":0.3}},"y":{"aggregate":"mean","field":"v","type":"quantitative","title":"Distance (cm/90 min)"}}},
    {"transform":[{"filter":"!datum.ann&&datum.s=='M'&&datum.c=='Caffeine'&&datum.g=='cre'"}],"mark":{"type":"bar","fillOpacity":0},
     "encoding":{"xOffset":{"field":"g","type":"nominal","scale":{"domain":["fl","cre"],"paddingInner":0.18,"paddingOuter":0.3}},"y":{"aggregate":"mean","field":"v","type":"quantitative","title":"Distance (cm/90 min)"}}},
    {"transform":[{"filter":"!datum.ann&&datum.s=='F'&&datum.c=='Caffeine'"}],"mark":{"type":"bar","fill":{"gradient":"linear","x1":0,"y1":0,"x2":0.706,"y2":1.176,"stops":[{"offset":0,"color":"#f58025"},{"offset":0.05,"color":"#f58025"},{"offset":0.05,"color":"#ffffff"},{"offset":0.1,"color":"#ffffff"},{"offset":0.1,"color":"#f58025"},{"offset":0.15,"color":"#f58025"},{"offset":0.15,"color":"#ffffff"},{"offset":0.2,"color":"#ffffff"},{"offset":0.2,"color":"#f58025"},{"offset":0.25,"color":"#f58025"},{"offset":0.25,"color":"#ffffff"},{"offset":0.3,"color":"#ffffff"},{"offset":0.3,"color":"#f58025"},{"offset":0.35,"color":"#f58025"},{"offset":0.35,"color":"#ffffff"},{"offset":0.4,"color":"#ffffff"},{"offset":0.4,"color":"#f58025"},{"offset":0.45,"color":"#f58025"},{"offset":0.45,"color":"#ffffff"},{"offset":0.5,"color":"#ffffff"},{"offset":0.5,"color":"#f58025"},{"offset":0.55,"color":"#f58025"},{"offset":0.55,"color":"#ffffff"},{"offset":0.6,"color":"#ffffff"},{"offset":0.6,"color":"#f58025"},{"offset":0.65,"color":"#f58025"},{"offset":0.65,"color":"#ffffff"},{"offset":0.7,"color":"#ffffff"},{"offset":0.7,"color":"#f58025"},{"offset":0.75,"color":"#f58025"},{"offset":0.75,"color":"#ffffff"},{"offset":0.8,"color":"#ffffff"},{"offset":0.8,"color":"#f58025"},{"offset":0.85,"color":"#f58025"},{"offset":0.85,"color":"#ffffff"},{"offset":0.9,"color":"#ffffff"},{"offset":0.9,"color":"#f58025"},{"offset":0.95,"color":"#f58025"},{"offset":0.95,"color":"#ffffff"},{"offset":1,"color":"#ffffff"}]}},
     "encoding":{"xOffset":{"field":"g","type":"nominal","scale":{"domain":["fl","cre"],"paddingInner":0.18,"paddingOuter":0.3}},"y":{"aggregate":"mean","field":"v","type":"quantitative","title":"Distance (cm/90 min)"}}},
    {"transform":[{"filter":"!datum.ann"}],"mark":{"type":"point"},
     "encoding":{"xOffset":{"field":"k","type":"nominal","scale":{"domain":["fl1","fl2","fl3","fl4","fl5","fl6","fl7","fl8","fl9","fl10","s1","s2","cre1","cre2","cre3","cre4","cre5","cre6","cre7","cre8","cre9","cre10"],"paddingInner":0,"paddingOuter":3.5}},"y":{"field":"v","type":"quantitative","title":"Distance (cm/90 min)"},
      "shape":{"field":"g","type":"nominal","scale":{"domain":["fl","cre"],"range":["triangle-up","triangle-up"]},"legend":{"title":null,"labelExpr":"datum.value=='fl'?'Gng7ᶠˡ/ᶠˡ':'Gng7ᶠˡ/ᶠˡ D2Cre⁺'","encode":{"symbols":{"update":{"stroke":{"value":"black"},"strokeWidth":{"value":1}}}}}},
      "fill":{"field":"g","type":"nominal","scale":{"domain":["fl","cre"],"range":["black","white"]},"legend":{"title":null,"labelExpr":"datum.value=='fl'?'Gng7ᶠˡ/ᶠˡ':'Gng7ᶠˡ/ᶠˡ D2Cre⁺'","encode":{"symbols":{"update":{"stroke":{"value":"black"},"strokeWidth":{"value":1}}}}}}}},
    {"transform":[{"filter":"datum.ann=='rule'"}],"mark":{"type":"tick","size":30},"encoding":{"y":{"field":"y","type":"quantitative","title":"Distance (cm/90 min)"}}},
    {"transform":[{"filter":"datum.ann=='rule'"}],"mark":{"type":"text","dy":0},"encoding":{"y":{"field":"y","type":"quantitative","title":"Distance (cm/90 min)"},"text":{"field":"t"}}},
    {"transform":[{"filter":"datum.ann=='note'"}],"mark":{"type":"text"},"encoding":{"xOffset":{"field":"g","type":"nominal","scale":{"domain":["fl","cre"],"paddingInner":0.18,"paddingOuter":0.3}},"y":{"field":"y","type":"quantitative","title":"Distance (cm/90 min)"},"text":{"field":"t"}}}
   ]}},
 {"title":{"text":"D","offset":-3},"data":{"name":"D"},"bounds":"flush",
  "facet":{"column":{"field":"s","type":"nominal","sort":["M","F"],"header":{"title":null,"labelPadding":20,"labelExpr":"datum.value=='M'?'Males   ':'    Females'"}}},
  "spacing":{"column":10},
  "spec":{"width":110,"height":107,
   "encoding":{"x":{"field":"c","type":"nominal","scale":{"domain":["Vehicle","SCH"],"paddingInner":0.08,"paddingOuter":0},"axis":{"title":null,"labelExpr":"datum.value=='SCH'?['SCH 58261','(3 mg/kg)']:datum.value"}}},
   "resolve":{"scale":{"xOffset":"independent"}},
   "layer":[
    {"transform":[{"filter":"!datum.ann"}],"mark":{"type":"errorbar","extent":"stderr","color":"black","thickness":1.5,"ticks":{"size":8,"thickness":1.5,"color":"black"}},
     "encoding":{"xOffset":{"field":"g","type":"nominal","scale":{"domain":["fl","cre"],"paddingInner":0.18,"paddingOuter":0.3}},"y":{"field":"v","type":"quantitative","title":"Distance (cm/90 min)","scale":{"domain":[0,30000],"nice":false}}}},
    {"transform":[{"filter":"!datum.ann&&datum.s=='M'&&datum.c=='Vehicle'"}],"mark":{"type":"bar","fill":"#14e4e4"},
     "encoding":{"xOffset":{"field":"g","type":"nominal","scale":{"domain":["fl","cre"],"paddingInner":0.18,"paddingOuter":0.3}},"y":{"aggregate":"mean","field":"v","type":"quantitative","title":"Distance (cm/90 min)","axis":{"values":[0,10000,20000,30000],"labelOverlap":false,"tickCount":4}}}},
    {"transform":[{"filter":"!datum.ann&&datum.s=='F'&&datum.c=='Vehicle'"}],"mark":{"type":"bar","fill":"#f58025"},
     "encoding":{"xOffset":{"field":"g","type":"nominal","scale":{"domain":["fl","cre"],"paddingInner":0.18,"paddingOuter":0.3}},"y":{"aggregate":"mean","field":"v","type":"quantitative","title":"Distance (cm/90 min)"}}},
    {"transform":[{"filter":"!datum.ann&&datum.s=='M'&&datum.c=='SCH'&&datum.g=='fl'"}],"mark":{"type":"bar","strokeWidth":0,"fill":{"gradient":"linear","x1":0,"y1":0,"x2":0,"y2":1,"stops":[{"offset":0,"color":"#ffffff"},{"offset":0.25,"color":"#ffffff"},{"offset":0.25,"color":"#000000"},{"offset":0.5,"color":"#000000"},{"offset":0.5,"color":"#ffffff"},{"offset":0.75,"color":"#ffffff"},{"offset":0.75,"color":"#000000"},{"offset":1,"color":"#000000"}]}},
     "encoding":{"xOffset":{"field":"g","type":"nominal","scale":{"domain":["fl","cre"],"paddingInner":0.18,"paddingOuter":0.3}},"y":{"aggregate":"mean","field":"v","type":"quantitative","title":"Distance (cm/90 min)"}}},
    {"transform":[{"filter":"!datum.ann&&datum.s=='M'&&datum.c=='SCH'&&datum.g=='cre'"}],"mark":{"type":"bar","strokeWidth":0,"fill":{"gradient":"linear","x1":0,"y1":0,"x2":0,"y2":1,"stops":[{"offset":0,"color":"#ffffff"},{"offset":0.1667,"color":"#ffffff"},{"offset":0.1667,"color":"#000000"},{"offset":0.3333,"color":"#000000"},{"offset":0.3333,"color":"#ffffff"},{"offset":0.5,"color":"#ffffff"},{"offset":0.5,"color":"#000000"},{"offset":0.6667,"color":"#000000"},{"offset":0.6667,"color":"#ffffff"},{"offset":0.8333,"color":"#ffffff"},{"offset":0.8333,"color":"#000000"},{"offset":1,"color":"#000000"}]}},
     "encoding":{"xOffset":{"field":"g","type":"nominal","scale":{"domain":["fl","cre"],"paddingInner":0.18,"paddingOuter":0.3}},"y":{"aggregate":"mean","field":"v","type":"quantitative","title":"Distance (cm/90 min)"}}},
    {"transform":[{"filter":"!datum.ann&&datum.s=='M'&&datum.c=='SCH'"}],"mark":{"type":"bar","strokeWidth":0,"blend":"difference","fill":{"gradient":"linear","x1":0,"y1":0,"x2":1,"y2":0,"stops":[{"offset":0,"color":"#ffffff"},{"offset":0.25,"color":"#ffffff"},{"offset":0.25,"color":"#000000"},{"offset":0.5,"color":"#000000"},{"offset":0.5,"color":"#ffffff"},{"offset":0.75,"color":"#ffffff"},{"offset":0.75,"color":"#000000"},{"offset":1,"color":"#000000"}]}},
     "encoding":{"xOffset":{"field":"g","type":"nominal","scale":{"domain":["fl","cre"],"paddingInner":0.18,"paddingOuter":0.3}},"y":{"aggregate":"mean","field":"v","type":"quantitative","title":"Distance (cm/90 min)"}}},
    {"transform":[{"filter":"!datum.ann&&datum.s=='M'&&datum.c=='SCH'"}],"mark":{"type":"bar","strokeWidth":0,"blend":"screen","fill":"#14e4e4"},
     "encoding":{"xOffset":{"field":"g","type":"nominal","scale":{"domain":["fl","cre"],"paddingInner":0.18,"paddingOuter":0.3}},"y":{"aggregate":"mean","field":"v","type":"quantitative","title":"Distance (cm/90 min)"}}},
    {"transform":[{"filter":"!datum.ann&&datum.s=='F'&&datum.c=='SCH'&&datum.g=='fl'"}],"mark":{"type":"bar","strokeWidth":0,"fill":{"gradient":"linear","x1":0,"y1":0,"x2":0,"y2":1,"stops":[{"offset":0,"color":"#ffffff"},{"offset":0.125,"color":"#ffffff"},{"offset":0.125,"color":"#000000"},{"offset":0.25,"color":"#000000"},{"offset":0.25,"color":"#ffffff"},{"offset":0.375,"color":"#ffffff"},{"offset":0.375,"color":"#000000"},{"offset":0.5,"color":"#000000"},{"offset":0.5,"color":"#ffffff"},{"offset":0.625,"color":"#ffffff"},{"offset":0.625,"color":"#000000"},{"offset":0.75,"color":"#000000"},{"offset":0.75,"color":"#ffffff"},{"offset":0.875,"color":"#ffffff"},{"offset":0.875,"color":"#000000"},{"offset":1,"color":"#000000"}]}},
     "encoding":{"xOffset":{"field":"g","type":"nominal","scale":{"domain":["fl","cre"],"paddingInner":0.18,"paddingOuter":0.3}},"y":{"aggregate":"mean","field":"v","type":"quantitative","title":"Distance (cm/90 min)"}}},
    {"transform":[{"filter":"!datum.ann&&datum.s=='F'&&datum.c=='SCH'&&datum.g=='cre'"}],"mark":{"type":"bar","strokeWidth":0,"fill":{"gradient":"linear","x1":0,"y1":0,"x2":0,"y2":1,"stops":[{"offset":0,"color":"#ffffff"},{"offset":0.1,"color":"#ffffff"},{"offset":0.1,"color":"#000000"},{"offset":0.2,"color":"#000000"},{"offset":0.2,"color":"#ffffff"},{"offset":0.3,"color":"#ffffff"},{"offset":0.3,"color":"#000000"},{"offset":0.4,"color":"#000000"},{"offset":0.4,"color":"#ffffff"},{"offset":0.5,"color":"#ffffff"},{"offset":0.5,"color":"#000000"},{"offset":0.6,"color":"#000000"},{"offset":0.6,"color":"#ffffff"},{"offset":0.7,"color":"#ffffff"},{"offset":0.7,"color":"#000000"},{"offset":0.8,"color":"#000000"},{"offset":0.8,"color":"#ffffff"},{"offset":0.9,"color":"#ffffff"},{"offset":0.9,"color":"#000000"},{"offset":1,"color":"#000000"}]}},
     "encoding":{"xOffset":{"field":"g","type":"nominal","scale":{"domain":["fl","cre"],"paddingInner":0.18,"paddingOuter":0.3}},"y":{"aggregate":"mean","field":"v","type":"quantitative","title":"Distance (cm/90 min)"}}},
    {"transform":[{"filter":"!datum.ann&&datum.s=='F'&&datum.c=='SCH'"}],"mark":{"type":"bar","strokeWidth":0,"blend":"difference","fill":{"gradient":"linear","x1":0,"y1":0,"x2":1,"y2":0,"stops":[{"offset":0,"color":"#ffffff"},{"offset":0.1429,"color":"#ffffff"},{"offset":0.1429,"color":"#000000"},{"offset":0.2857,"color":"#000000"},{"offset":0.2857,"color":"#ffffff"},{"offset":0.4286,"color":"#ffffff"},{"offset":0.4286,"color":"#000000"},{"offset":0.5714,"color":"#000000"},{"offset":0.5714,"color":"#ffffff"},{"offset":0.7143,"color":"#ffffff"},{"offset":0.7143,"color":"#000000"},{"offset":0.8571,"color":"#000000"},{"offset":0.8571,"color":"#ffffff"},{"offset":1,"color":"#ffffff"}]}},
     "encoding":{"xOffset":{"field":"g","type":"nominal","scale":{"domain":["fl","cre"],"paddingInner":0.18,"paddingOuter":0.3}},"y":{"aggregate":"mean","field":"v","type":"quantitative","title":"Distance (cm/90 min)"}}},
    {"transform":[{"filter":"!datum.ann&&datum.s=='F'&&datum.c=='SCH'"}],"mark":{"type":"bar","strokeWidth":0,"blend":"screen","fill":"#f58025"},
     "encoding":{"xOffset":{"field":"g","type":"nominal","scale":{"domain":["fl","cre"],"paddingInner":0.18,"paddingOuter":0.3}},"y":{"aggregate":"mean","field":"v","type":"quantitative","title":"Distance (cm/90 min)"}}},
    {"transform":[{"filter":"!datum.ann&&datum.c=='SCH'"}],"mark":{"type":"bar","fillOpacity":0},
     "encoding":{"xOffset":{"field":"g","type":"nominal","scale":{"domain":["fl","cre"],"paddingInner":0.18,"paddingOuter":0.3}},"y":{"aggregate":"mean","field":"v","type":"quantitative","title":"Distance (cm/90 min)"}}},
    {"transform":[{"filter":"!datum.ann"}],"mark":{"type":"point"},
     "encoding":{"xOffset":{"field":"k","type":"nominal","scale":{"domain":["fl1","fl2","fl3","fl4","fl5","fl6","fl7","fl8","fl9","fl10","s1","s2","cre1","cre2","cre3","cre4","cre5","cre6","cre7","cre8","cre9","cre10"],"paddingInner":0,"paddingOuter":3.5}},"y":{"field":"v","type":"quantitative","title":"Distance (cm/90 min)"},
      "shape":{"field":"g","type":"nominal","scale":{"domain":["fl","cre"],"range":["triangle-up","triangle-up"]},"legend":{"title":null,"labelExpr":"datum.value=='fl'?'Gng7ᶠˡ/ᶠˡ':'Gng7ᶠˡ/ᶠˡ D2Cre⁺'","encode":{"symbols":{"update":{"stroke":{"value":"black"},"strokeWidth":{"value":1}}}}}},
      "fill":{"field":"g","type":"nominal","scale":{"domain":["fl","cre"],"range":["black","white"]},"legend":{"title":null,"labelExpr":"datum.value=='fl'?'Gng7ᶠˡ/ᶠˡ':'Gng7ᶠˡ/ᶠˡ D2Cre⁺'","encode":{"symbols":{"update":{"stroke":{"value":"black"},"strokeWidth":{"value":1}}}}}}}},
    {"transform":[{"filter":"datum.ann=='rule'"}],"mark":{"type":"tick","size":30},"encoding":{"y":{"field":"y","type":"quantitative","title":"Distance (cm/90 min)"}}},
    {"transform":[{"filter":"datum.ann=='rule'"}],"mark":{"type":"text","dy":0},"encoding":{"y":{"field":"y","type":"quantitative","title":"Distance (cm/90 min)"},"text":{"field":"t"}}}
   ]}}
],"spacing":5,"resolve":{"scale":{"shape":"independent","fill":"independent"}}}
]
}
